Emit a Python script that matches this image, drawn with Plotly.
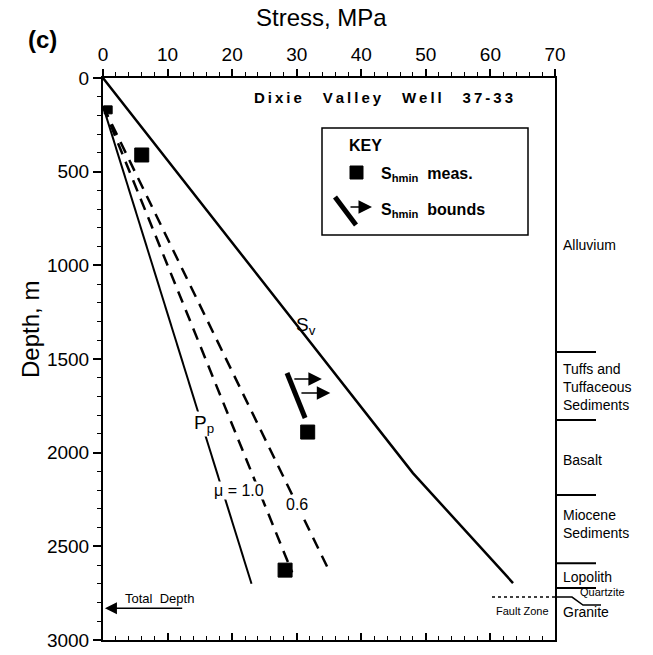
import plotly.graph_objects as go

# ---------------- data ----------------
sv_stress = [0, 48.0, 63.5]
sv_depth = [0, 2109, 2696]

pp_stress = [0, 23]
pp_depth = [150, 2700]

mu10_stress = [0, 29.3]
mu10_depth = [150, 2640]

mu06_stress = [0, 35.2]
mu06_depth = [150, 2643]

shmin_stress = [0.8, 6.0, 31.7, 28.2]
shmin_depth = [170, 411, 1890, 2627]

bound_stress = [28.5, 31.3]
bound_depth = [1575, 1815]
arrow_from = [29.4, 30.5]
arrow_to = [33.9, 35.2]
arrow_depth = [1607, 1682]

layer_bounds = [1463, 1826, 2226, 2590, 2723]
layer_names = ["Alluvium", "Tuffs and<br>Tuffaceous<br>Sediments", "Basalt",
               "Miocene<br>Sediments", "Lopolith", "Granite"]
layer_label_depth = [892, 1650, 2039, 2381, 2664, 2851]

total_depth = 2830
x_ticks = [0, 10, 20, 30, 40, 50, 60, 70]
y_ticks = [0, 500, 1000, 1500, 2000, 2500, 3000]

FONT = "Liberation Sans, Arial, Helvetica, sans-serif"
TS = "\u2009"  # thin space for letter spacing

# pixel helpers for paper coords (plot area 103..555 x, 78..640 y)
def px(x):
    return (x - 103) / 452.0

def py(y):
    return 1 - (y - 78) / 562.0

def spaced(s):
    return TS.join(list(s))

fig = go.Figure()

fig.add_trace(go.Scatter(x=sv_stress, y=sv_depth, mode="lines",
                         line=dict(color="black", width=2.5), showlegend=False))
fig.add_trace(go.Scatter(x=pp_stress, y=pp_depth, mode="lines",
                         line=dict(color="black", width=2), showlegend=False))
fig.add_trace(go.Scatter(x=mu10_stress, y=mu10_depth, mode="lines",
                         line=dict(color="black", width=2.5, dash="12px,8px"), showlegend=False))
fig.add_trace(go.Scatter(x=mu06_stress, y=mu06_depth, mode="lines",
                         line=dict(color="black", width=2.5, dash="12px,8px"), showlegend=False))
fig.add_trace(go.Scatter(x=bound_stress, y=bound_depth, mode="lines",
                         line=dict(color="black", width=5), showlegend=False))
fig.add_trace(go.Scatter(x=shmin_stress, y=shmin_depth, mode="markers",
                         marker=dict(symbol="square", size=[8, 14, 14, 14], color="black",
                                     opacity=1, line=dict(color="black", width=1)),
                         showlegend=False))
# invisible trace for bottom axis
fig.add_trace(go.Scatter(x=[0, 70], y=[0, 0], xaxis="x2", mode="markers",
                         marker=dict(opacity=0), showlegend=False, hoverinfo="skip"))

annotations = []
shapes = []


def text_at(x, y, text, size, xanchor="center", yanchor="middle", **kw):
    annotations.append(dict(x=px(x), y=py(y), xref="paper", yref="paper", text=text,
                            showarrow=False, xanchor=xanchor, yanchor=yanchor,
                            font=dict(family=FONT, size=size, color="black"), **kw))


# Shmin bounds arrows
for a0, a1, d in zip(arrow_from, arrow_to, arrow_depth):
    annotations.append(dict(x=a1, y=d, ax=a0, ay=d, xref="x", yref="y", axref="x", ayref="y",
                            showarrow=True, arrowhead=2, arrowsize=1.8, arrowwidth=1.5,
                            arrowcolor="black", text=""))

# Total depth arrow
annotations.append(dict(x=0.3, y=total_depth, ax=12.5, ay=total_depth, xref="x", yref="y",
                        axref="x", ayref="y", showarrow=True, arrowhead=2, arrowsize=1.6,
                        arrowwidth=1.5, arrowcolor="black", text=""))
text_at(123, 598, "Total  Depth", 13, xanchor="left")

# Labels on lines (white background breaks the lines like the original)
text_at(306, 326, "S<sub>v</sub>", 19)
text_at(204, 424, "P<sub>p</sub>", 19, bgcolor="white", borderpad=0)
text_at(239, 490, "μ = 1.0", 16, bgcolor="white", borderpad=0)
text_at(297, 504, "0.6", 16, bgcolor="white", borderpad=0)

# Titles
text_at(321, 18, "Stress, MPa", 24)
text_at(43, 40, "<b>(c)</b>", 24)
text_at(30, 330, "Depth, m", 24, textangle=-90)
text_at(383, 97, "<b>" + "     ".join(spaced(w) for w in ["Dixie", "Valley", "Well", "37-33"]) + "</b>", 15)

# Legend box
shapes.append(dict(type="rect", xref="paper", yref="paper", x0=px(322), x1=px(528),
                   y0=py(235), y1=py(128), line=dict(color="black", width=1.5)))
text_at(347, 145, "<b>KEY</b>", 16, xanchor="left")
shapes.append(dict(type="rect", xref="paper", yref="paper", x0=px(350), x1=px(363),
                   y0=py(179), y1=py(166), fillcolor="black", line=dict(color="black", width=1)))
text_at(379, 175, "<b>S<sub>hmin</sub>  meas.</b>", 16, xanchor="left")
shapes.append(dict(type="line", xref="paper", yref="paper", x0=px(335), x1=px(356),
                   y0=py(197), y1=py(225), line=dict(color="black", width=5)))
annotations.append(dict(x=px(372), y=py(207), ax=-23, ay=0, xref="paper", yref="paper",
                        axref="pixel", ayref="pixel", showarrow=True, arrowhead=2, arrowsize=1.8,
                        arrowwidth=1.5, arrowcolor="black", text=""))
text_at(379, 211, "<b>S<sub>hmin</sub>  bounds</b>", 16, xanchor="left")

# Geological column
def depth_to_py(d):
    return 78 + d * 562.0 / 3000

for d in layer_bounds:
    shapes.append(dict(type="line", xref="paper", yref="paper", x0=px(555), x1=px(596),
                       y0=py(depth_to_py(d)), y1=py(depth_to_py(d)),
                       line=dict(color="black", width=2)))
for name, d in zip(layer_names, layer_label_depth):
    text_at(561, depth_to_py(d), name, 14, xanchor="left", align="left")
# fault zone line and quartzite
fz = depth_to_py(2771)
shapes.append(dict(type="line", xref="paper", yref="paper", x0=px(492), x1=px(555),
                   y0=py(fz), y1=py(fz), line=dict(color="black", width=1.5, dash="dot")))
shapes.append(dict(type="path", xref="paper", yref="paper",
                   path=f"M {px(555)},{py(fz)} L {px(572)},{py(fz)} L {px(583)},{py(fz+8)} L {px(601)},{py(fz+8)}",
                   line=dict(color="black", width=1.5)))
text_at(578, 592, "Quartzite", 11, xanchor="left")
text_at(551, 611, "Fault Zone", 11, xanchor="right")

fig.update_layout(
    width=653, height=655,
    margin=dict(l=103, r=98, t=78, b=15, autoexpand=False),
    paper_bgcolor="white", plot_bgcolor="white",
    showlegend=False,
    font=dict(family=FONT, color="black"),
    xaxis=dict(side="top", range=[0, 70], tickvals=x_ticks, showgrid=False, zeroline=False,
               automargin=False,
               showline=True, linecolor="black", linewidth=2, mirror=True,
               ticks="outside", ticklen=7, tickwidth=1.5, tickcolor="black",
               tickfont=dict(family=FONT, size=19, color="black"),
               minor=dict(dtick=2, ticks="outside", ticklen=4, tickcolor="black", tickwidth=1)),
    xaxis2=dict(overlaying="x", side="bottom", anchor="y", range=[0, 70], tickvals=x_ticks,
                automargin=False,
                showticklabels=False, showgrid=False, zeroline=False, showline=False,
                ticks="inside", ticklen=7, tickwidth=1.5, tickcolor="black",
                minor=dict(dtick=2, ticks="inside", ticklen=4, tickcolor="black", tickwidth=1)),
    yaxis=dict(range=[3000, 0], tickvals=y_ticks, showgrid=False, zeroline=False,
               automargin=False,
               showline=True, linecolor="black", linewidth=2, mirror=True,
               ticks="outside", ticklen=8, tickwidth=1.5, tickcolor="black",
               tickfont=dict(family=FONT, size=19, color="black"),
               minor=dict(dtick=100, ticks="outside", ticklen=4, tickcolor="black", tickwidth=1)),
    annotations=annotations,
    shapes=shapes,
)

fig.write_html("out.html", config={"displayModeBar": False},
               post_script="document.body.style.margin='0';document.body.style.overflow='hidden';")
